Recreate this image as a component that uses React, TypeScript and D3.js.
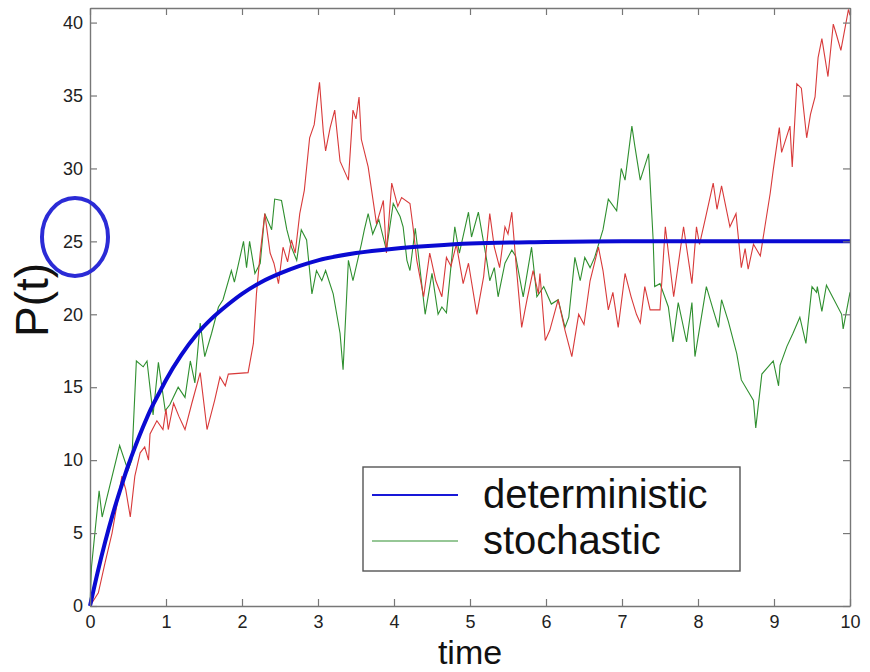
import React, { useEffect, useRef } from "react";
import * as d3 from "d3";

// deterministic curve
const detTimes = [0, 0.1, 0.2, 0.3, 0.4, 0.5, 0.6, 0.7, 0.8, 0.9, 1.0, 1.2, 1.4, 1.6, 1.8, 2.0, 2.25, 2.5, 2.75, 3.0, 3.5, 4.0, 4.5, 5.0, 6.0, 7.0, 8.0, 10.0];
const detValues = [0, 2.3, 4.4, 6.3, 8.0, 9.6, 11.0, 12.3, 13.5, 14.5, 15.5, 17.2, 18.6, 19.7, 20.6, 21.4, 22.2, 22.8, 23.3, 23.7, 24.2, 24.5, 24.7, 24.85, 24.95, 25, 25, 25];

// stochastic run (green)
const greenRun: [number, number][] = [
  [0, 0], [0.02, 2.7], [0.12, 7.9], [0.16, 6.1], [0.39, 11.0], [0.5, 9.3], [0.55, 10], [0.61, 16.8], [0.7, 16.4],
  [0.75, 16.8], [0.83, 13.1], [0.9, 16.7], [0.99, 13.4], [1.05, 13.8], [1.16, 15.0], [1.25, 14.3], [1.32, 16.8],
  [1.38, 15.3], [1.45, 19.4], [1.51, 17.1], [1.6, 18.7], [1.69, 20.5], [1.75, 21], [1.86, 23], [1.9, 22.2],
  [2.02, 25], [2.06, 23.2], [2.1, 25], [2.17, 22.8], [2.24, 23.5], [2.3, 26.9], [2.39, 25.8], [2.43, 27.9],
  [2.52, 27.8], [2.59, 25.8], [2.65, 24.6], [2.72, 23.7], [2.78, 25.8], [2.85, 25.1], [2.92, 21.4], [2.98, 23.0],
  [3.05, 22.3], [3.1, 23.0], [3.2, 21.4], [3.29, 18.7], [3.33, 16.2], [3.4, 23.7], [3.46, 22.3], [3.57, 24.8],
  [3.61, 25.8], [3.66, 26.9], [3.72, 25.5], [3.8, 26.5], [3.9, 24.4], [3.99, 27.6], [4.08, 26.7], [4.12, 26],
  [4.17, 23.7], [4.21, 23.0], [4.28, 25.9], [4.34, 23.2], [4.41, 20.0], [4.5, 22.8], [4.58, 20.0], [4.63, 20.5],
  [4.69, 20.1], [4.8, 26], [4.86, 24.2], [4.98, 27.0], [5.02, 25.3], [5.11, 27.0], [5.22, 23.7], [5.26, 22.3],
  [5.32, 23.2], [5.37, 21.2], [5.46, 23.5], [5.55, 24.4], [5.6, 24], [5.7, 21.2], [5.81, 24.6], [5.88, 21.2],
  [5.97, 21.9], [6.07, 20.7], [6.16, 21], [6.25, 19.1], [6.3, 19.8], [6.38, 23.9], [6.45, 22.3], [6.51, 23.9],
  [6.58, 23.2], [6.64, 23.9], [6.75, 25.8], [6.82, 27.9], [6.93, 27.1], [6.99, 30.0], [7.04, 29.2], [7.13, 32.9],
  [7.17, 31.5], [7.24, 29.2], [7.35, 31.0], [7.41, 25.1], [7.43, 21.9], [7.5, 22.1], [7.61, 20.5], [7.67, 18.1],
  [7.74, 20.8], [7.85, 18.1], [7.92, 20.8], [7.96, 17.1], [8.11, 21.9], [8.2, 20.3], [8.27, 19.1], [8.31, 21.0],
  [8.4, 19.5], [8.51, 17.3], [8.57, 15.5], [8.73, 14.1], [8.76, 12.2], [8.84, 15.9], [8.99, 16.8], [9.06, 15.1],
  [9.08, 16.5], [9.17, 17.8], [9.25, 18.7], [9.34, 19.8], [9.42, 18.0], [9.5, 21.9], [9.56, 21.5], [9.57, 21.9],
  [9.63, 20.2], [9.69, 22.0], [9.89, 20.0], [9.91, 19.0], [10, 21.5],
];

// second stochastic run (red)
const redRun: [number, number][] = [
  [0, 0], [0.11, 0.9], [0.2, 3], [0.29, 5.0], [0.42, 8.9], [0.47, 8], [0.53, 6.1], [0.59, 8.9], [0.66, 10.5],
  [0.72, 10.9], [0.77, 10], [0.79, 11.8], [0.88, 12.7], [0.96, 12.1], [1.0, 13.5], [1.03, 12.1], [1.1, 13.9],
  [1.17, 13.0], [1.25, 12.1], [1.34, 13.9], [1.45, 16.0], [1.54, 12.1], [1.64, 14.1], [1.71, 15.7], [1.78, 15.1],
  [1.82, 15.9], [2.08, 16.0], [2.15, 18.0], [2.19, 21.4], [2.24, 24.2], [2.3, 26.9], [2.37, 24.2], [2.42, 23.5],
  [2.48, 22.1], [2.54, 24.6], [2.6, 23.6], [2.65, 25.1], [2.7, 24.2], [2.76, 26.9], [2.82, 28.5], [2.89, 32.1],
  [2.95, 33], [3.02, 35.9], [3.07, 32.5], [3.1, 31.2], [3.16, 32.8], [3.22, 34.0], [3.29, 30.5], [3.4, 29.2],
  [3.46, 34.0], [3.5, 33.4], [3.54, 34.9], [3.57, 32], [3.66, 30.1], [3.77, 26.2], [3.86, 27.8], [3.9, 24.2],
  [3.97, 29.0], [4.05, 27.4], [4.1, 28], [4.21, 27.6], [4.25, 26.0], [4.3, 23.7], [4.39, 21.2], [4.47, 24.2],
  [4.55, 22.3], [4.63, 21.2], [4.69, 23.9], [4.75, 23.3], [4.82, 24.8], [4.91, 22.1], [4.98, 23.5], [5.09, 20.0],
  [5.18, 22.6], [5.26, 26.9], [5.32, 24.6], [5.39, 23.2], [5.46, 26.0], [5.5, 25.5], [5.55, 27.0], [5.61, 23.2],
  [5.68, 19.1], [5.75, 21], [5.83, 23.0], [5.9, 21.4], [5.92, 22.8], [5.99, 18.2], [6.05, 18.9], [6.16, 21.0],
  [6.25, 18.9], [6.34, 17.1], [6.43, 20.0], [6.5, 19.3], [6.58, 22.3], [6.69, 24.6], [6.75, 23.0], [6.82, 20.3],
  [6.88, 21.5], [6.95, 19.1], [7.04, 22.8], [7.12, 21.2], [7.19, 20.0], [7.24, 19.4], [7.3, 21.9], [7.37, 20.3],
  [7.5, 20.3], [7.57, 26.0], [7.68, 21.2], [7.81, 26.0], [7.92, 22.1], [7.98, 26.0], [8.02, 24.8], [8.09, 26.4],
  [8.2, 29.0], [8.25, 27.2], [8.31, 28.8], [8.42, 26.0], [8.5, 26.9], [8.57, 23.2], [8.62, 24.5], [8.66, 23.1],
  [8.73, 24.8], [8.82, 24.0], [8.88, 26.0], [8.95, 28.3], [8.99, 29.9], [9.07, 32.8], [9.1, 31.1], [9.21, 32.9],
  [9.24, 30.1], [9.3, 35.8], [9.36, 35.5], [9.43, 32.1], [9.48, 33.7], [9.54, 34.9], [9.58, 37.6], [9.63, 38.9],
  [9.71, 36.3], [9.78, 39.9], [9.82, 39.2], [9.88, 38.1], [9.98, 40.9], [10, 40.5],
];

const xTicks = [0, 1, 2, 3, 4, 5, 6, 7, 8, 9, 10];
const yTicks = [0, 5, 10, 15, 20, 25, 30, 35, 40];
const legendLabels = ["deterministic", "stochastic"];

const FONT = "Arial, 'Liberation Sans', Helvetica, sans-serif";

const App = () => {
  const ref = useRef<SVGSVGElement | null>(null);

  useEffect(() => {
    document.body.style.margin = "0";
    const svg = d3.select(ref.current);
    svg.selectAll("*").remove();

    const width = 870;
    const height = 672;
    const m = { left: 90, right: 20, top: 8, bottom: 66 };

    const x = d3.scaleLinear().domain([0, 10]).range([m.left, width - m.right]);
    const y = d3.scaleLinear().domain([0, 41]).range([height - m.bottom, m.top]);

    svg.append("rect").attr("width", width).attr("height", height).attr("fill", "#fff");

    const line = d3
      .line<[number, number]>()
      .x(d => x(d[0]))
      .y(d => y(d[1]));

    const plot = svg.append("g");

    plot.append("path")
      .datum(greenRun)
      .attr("d", line)
      .attr("fill", "none")
      .attr("stroke", "#2f8f2f")
      .attr("stroke-width", 1.1);

    plot.append("path")
      .datum(redRun)
      .attr("d", line)
      .attr("fill", "none")
      .attr("stroke", "#d83a3a")
      .attr("stroke-width", 1.1);

    const detPoints = detTimes.map((t, i) => [t, detValues[i]] as [number, number]);
    plot.append("path")
      .datum(detPoints)
      .attr("d", line.curve(d3.curveMonotoneX))
      .attr("fill", "none")
      .attr("stroke", "#0a0ad2")
      .attr("stroke-width", 4);

    // axes box, ticks pointing inward on all four sides
    const styleAxis = g => {
      g.select(".domain").attr("stroke", "#777").attr("stroke-width", 1.4);
      g.selectAll(".tick line").attr("stroke", "#777").attr("stroke-width", 1.2);
      g.selectAll("text").attr("fill", "#222").style("font-family", FONT).style("font-size", "18px");
    };

    svg.append("g")
      .attr("transform", `translate(0,${y(0)})`)
      .call(d3.axisBottom(x).tickValues(xTicks).tickSize(-7).tickSizeOuter(0).tickPadding(9))
      .call(styleAxis);
    svg.append("g")
      .attr("transform", `translate(0,${y(41)})`)
      .call(d3.axisTop(x).tickValues(xTicks).tickSize(-7).tickSizeOuter(0).tickFormat(() => ""))
      .call(styleAxis);
    svg.append("g")
      .attr("transform", `translate(${x(0)},0)`)
      .call(d3.axisLeft(y).tickValues(yTicks).tickSize(-7).tickSizeOuter(0).tickPadding(7))
      .call(styleAxis);
    svg.append("g")
      .attr("transform", `translate(${x(10)},0)`)
      .call(d3.axisRight(y).tickValues(yTicks).tickSize(-7).tickSizeOuter(0).tickFormat(() => ""))
      .call(styleAxis);

    // axis titles
    svg.append("text")
      .attr("x", 470)
      .attr("y", 664)
      .attr("text-anchor", "middle")
      .style("font-family", FONT)
      .style("font-size", "34px")
      .attr("fill", "#111")
      .text("time");

    svg.append("text")
      .attr("transform", `translate(48,300) rotate(-90)`)
      .attr("text-anchor", "middle")
      .style("font-family", FONT)
      .style("font-size", "46px")
      .attr("fill", "#111")
      .text("P(t)");

    // legend
    const legend = svg.append("g").attr("transform", "translate(363,467)");
    legend.append("rect")
      .attr("width", 377)
      .attr("height", 104)
      .attr("fill", "#fff")
      .attr("stroke", "#555")
      .attr("stroke-width", 1.4);
    const legendColors = ["#1818d8", "#2f8f2f"];
    legendLabels.forEach((label, i) => {
      const cy = 28 + i * 46;
      legend.append("line")
        .attr("x1", 9)
        .attr("x2", 95)
        .attr("y1", cy)
        .attr("y2", cy)
        .attr("stroke", legendColors[i])
        .attr("stroke-width", i === 0 ? 2 : 1.2);
      legend.append("text")
        .attr("x", 120)
        .attr("y", cy + 13)
        .style("font-family", FONT)
        .style("font-size", "40px")
        .attr("fill", "#111")
        .text(label);
    });

    // hand-drawn circle around the 25 tick
    svg.append("ellipse")
      .attr("cx", 75)
      .attr("cy", 237)
      .attr("rx", 33)
      .attr("ry", 39)
      .attr("fill", "none")
      .attr("stroke", "#2b2bd6")
      .attr("stroke-width", 4);
  }, []);

  return <svg ref={ref} width={870} height={672} style={{ display: "block" }} />;
};

export default App;
